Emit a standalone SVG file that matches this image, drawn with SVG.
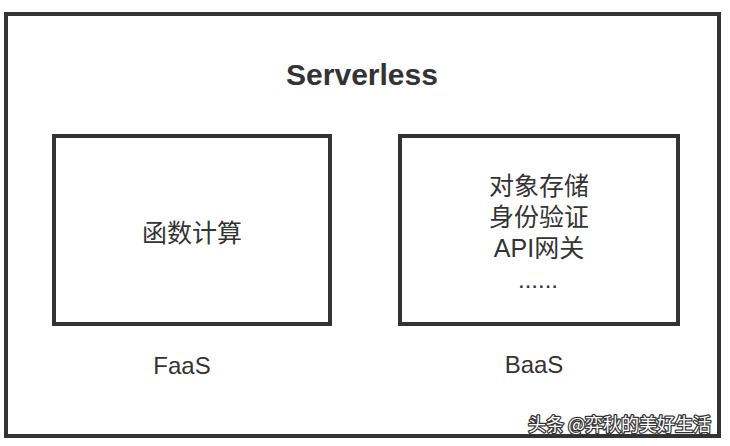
<svg xmlns="http://www.w3.org/2000/svg" width="730" height="446" viewBox="0 0 730 446">
<style>
.box{fill:none;stroke:#333;stroke-width:4}
.t{font-family:"Liberation Sans","Noto Sans CJK SC",sans-serif;fill:#333;text-anchor:middle}
.cjk{font-family:"Liberation Sans","Noto Sans CJK SC",sans-serif;font-size:25px;fill:#333;text-anchor:middle}
.lbl{font-size:24px}
.wm{font-family:"Noto Sans CJK SC",sans-serif;font-size:18px;fill:#fff;stroke:#333;stroke-width:2.5;paint-order:stroke;stroke-linejoin:round}
</style>
<rect width="730" height="446" fill="#fff"/>
<g id="serverless">
<rect class="box" x="6" y="14" width="713" height="422"/>
<text class="t" x="362" y="85" font-size="30" font-weight="bold">Serverless</text>
</g>
<g id="faas">
<rect class="box" x="54" y="136" width="276" height="188"/>
<text class="cjk" x="192" y="242">函数计算</text>
<text class="t lbl" x="182" y="374">FaaS</text>
</g>
<g id="baas">
<rect class="box" x="400" y="136" width="278" height="188"/>
<text class="cjk" x="539" y="195">对象存储</text>
<text class="cjk" x="539" y="226">身份验证</text>
<text class="cjk" x="539" y="257">API网关</text>
<text class="t lbl" x="538" y="288">......</text>
<text class="t lbl" x="534" y="373">BaaS</text>
</g>
<g id="connectors"></g>
<text class="wm" x="528" y="431">头条 @弈秋的美好生活</text>
</svg>
